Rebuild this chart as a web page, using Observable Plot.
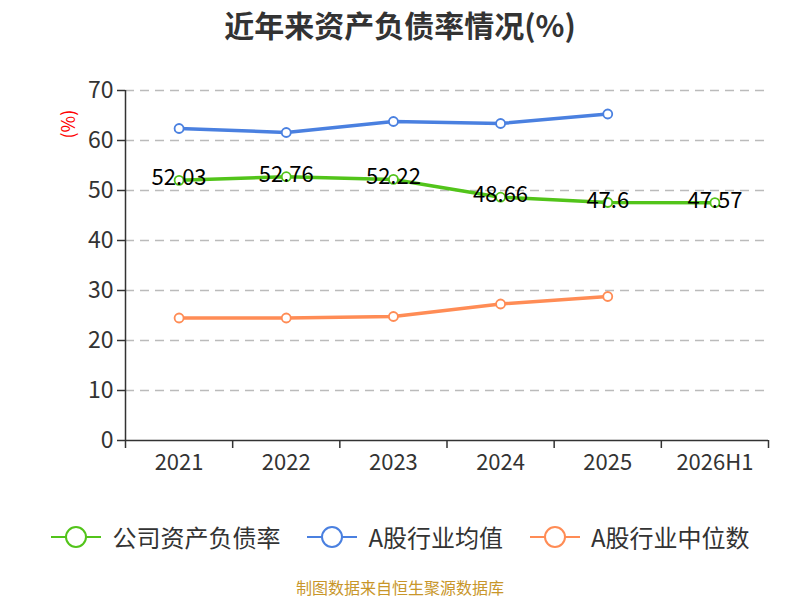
<!DOCTYPE html>
<html><head><meta charset="utf-8">
<script src="https://cdn.jsdelivr.net/npm/d3@7"></script>
<script src="https://cdn.jsdelivr.net/npm/@observablehq/plot@0.6"></script>
<style>
body{margin:0;background:#fff;font-family:"Noto Sans CJK SC","Noto Sans",sans-serif;}
#wrap{position:relative;width:800px;height:600px;overflow:hidden;}
#title{position:absolute;top:4px;left:0;width:800px;text-align:center;font-size:30px;font-weight:bold;color:#333;line-height:40px;}
#chart{position:absolute;top:60px;left:0;}
#legend{position:absolute;top:520px;left:0;width:800px;display:flex;justify-content:center;gap:26px;font-size:24px;color:#333;line-height:34px;}
.item{display:flex;align-items:center;gap:10px;}
#caption{position:absolute;top:576px;left:0;width:800px;text-align:center;font-size:16px;color:#c8962a;line-height:22px;}
</style></head>
<body><div id="wrap">
<div id="title">近年来资产负债率情况(%)</div>
<div id="chart"></div>
<div id="legend"></div>
<div id="caption">制图数据来自恒生聚源数据库</div>
</div>
<script>
const categories = ["2021","2022","2023","2024","2025","2026H1"];
const company = [52.03, 52.76, 52.22, 48.66, 47.6, 47.57];
const industryAvg = [62.4, 61.6, 63.8, 63.4, 65.3];
const industryMedian = [24.5, 24.5, 24.8, 27.3, 28.8];
const yTicks = [0,10,20,30,40,50,60,70];
const seriesNames = ["公司资产负债率","A股行业均值","A股行业中位数"];
const colors = ["#52c41a","#4a80e0","#ff8c55"];

const rows = [];
[company, industryAvg, industryMedian].forEach((arr, s) => {
  arr.forEach((v, i) => rows.push({series: seriesNames[s], i, x: i + 0.5, v}));
});
const compRows = rows.filter(d => d.series === seriesNames[0]);
const bounds = d3.range(categories.length + 1);

const chart = Plot.plot({
  width: 800, height: 430,
  marginTop: 30, marginBottom: 50, marginLeft: 125, marginRight: 32,
  style: {fontFamily: '"Noto Sans CJK SC","Noto Sans",sans-serif', background: "#fff"},
  x: {type: "linear", domain: [0, categories.length]},
  y: {type: "linear", domain: [0, 70]},
  color: {domain: seriesNames, range: colors},
  marks: [
    Plot.ruleY(yTicks.filter(t => t > 0), {stroke: "#bbb", strokeWidth: 1.3, strokeDasharray: "9,6"}),
    Plot.ruleY([0], {stroke: "#333", strokeWidth: 1.5}),
    Plot.ruleX([0], {stroke: "#333", strokeWidth: 1.5}),
    Plot.axisY({ticks: yTicks, tickSize: 8, tickPadding: 4, fontSize: 23, fill: "#333", stroke: "#333", strokeWidth: 1.5, label: null}),
    Plot.axisX({ticks: bounds, tickSize: 8, tickFormat: () => "", stroke: "#333", strokeWidth: 1.5, label: null}),
    Plot.axisX({ticks: categories.map((c, i) => i + 0.5), tickSize: 0, tickPadding: 14, tickFormat: d => categories[Math.floor(d)], fontSize: 22, fill: "#333", label: null}),
    Plot.line(rows, {x: "x", y: "v", z: "series", stroke: "series", strokeWidth: 3.5}),
    Plot.dot(rows, {x: "x", y: "v", stroke: "series", fill: "white", r: 4.5, strokeWidth: 1.8}),
    Plot.text(compRows, {x: "x", y: "v", text: d => String(d.v), fontSize: 22, fill: "#000", dy: -2}),
    Plot.text(["(%)"], {frameAnchor: "top-left", dx: -63, dy: 48, rotate: -90, fill: "red", fontSize: 18})
  ]
});
document.getElementById("chart").appendChild(chart);

const legend = document.getElementById("legend");
seriesNames.forEach((name, s) => {
  const it = document.createElement("div");
  it.className = "item";
  it.innerHTML = `<svg width="52" height="24"><line x1="1" x2="51" y1="12" y2="12" stroke="${colors[s]}" stroke-width="2"/><circle cx="26" cy="12" r="10" fill="white" stroke="${colors[s]}" stroke-width="2"/></svg><span>${name}</span>`;
  legend.appendChild(it);
});
</script></body></html>
